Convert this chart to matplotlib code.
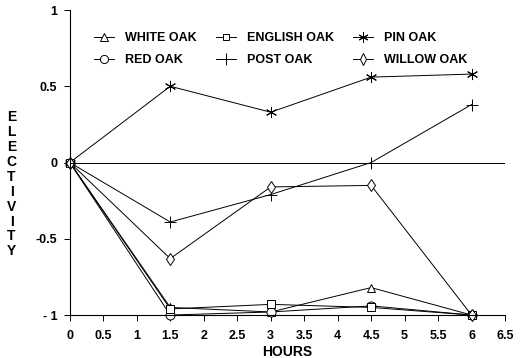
import matplotlib.pyplot as plt

hours = [0, 1.5, 3, 4.5, 6]

white_oak = [0, -0.95, -0.98, -0.82, -1.0]
red_oak = [0, -1.0, -0.98, -0.94, -1.0]
english_oak = [0, -0.96, -0.93, -0.95, -1.0]
post_oak = [0, -0.39, -0.21, 0.0, 0.38]
pin_oak = [0, 0.5, 0.33, 0.56, 0.58]
willow_oak = [0, -0.63, -0.16, -0.15, -1.0]

x_ticks = [0, 0.5, 1, 1.5, 2, 2.5, 3, 3.5, 4, 4.5, 5, 5.5, 6, 6.5]
x_tick_labels = ["0", "0.5", "1", "1.5", "2", "2.5", "3", "3.5", "4", "4.5", "5", "5.5", "6", "6.5"]
y_ticks = [-1, -0.5, 0, 0.5, 1]
y_tick_labels = ["- 1", "-0.5", "0", "0.5", "1"]

plt.rcParams['font.family'] = ['Liberation Sans', 'DejaVu Sans']
plt.rcParams['font.weight'] = 'bold'

fig = plt.figure(figsize=(5.25, 3.58), dpi=100)
ax = fig.add_axes([0.133, 0.12, 0.829, 0.852])

style = dict(color='black', lw=0.7, mfc='white', mec='black', mew=0.7, clip_on=False)
ax.plot(hours, white_oak, marker='^', ms=6, label='WHITE OAK', **style)
ax.plot(hours, red_oak, marker='o', ms=6.5, label='RED OAK', **style)
ax.plot(hours, english_oak, marker='s', ms=5.5, label='ENGLISH OAK', **style)
ax.plot(hours, post_oak, marker='+', ms=9, label='POST OAK', **style)
ax.plot(hours, pin_oak, marker=(6, 2, 0), ms=8, label='PIN OAK', **style)
ax.plot(hours, willow_oak, marker='d', ms=6.5, label='WILLOW OAK', **style)

ax.axhline(0, color='black', lw=0.7)

ax.set_xlim(0, 6.5)
ax.set_ylim(-1, 1)
ax.set_xticks(x_ticks)
ax.set_xticklabels(x_tick_labels)
ax.set_yticks(y_ticks)
ax.set_yticklabels(y_tick_labels)
ax.tick_params(labelsize=9, length=4, width=0.7, direction='out')
ax.tick_params(axis='x', pad=7)
ax.tick_params(axis='y', pad=5)
ax.spines['top'].set_visible(False)
ax.spines['right'].set_visible(False)
ax.spines['left'].set_linewidth(0.8)
ax.spines['bottom'].set_linewidth(0.8)

ax.set_xlabel("HOURS", fontsize=10, fontweight='bold', labelpad=2)
fig.text(0.022, 0.485, "\n".join("ELECTIVITY"), fontsize=10, fontweight='bold',
         ha='center', va='center', linespacing=1.08)

ax.legend(loc='upper left', bbox_to_anchor=(0.03, 0.965), ncol=3, frameon=False,
          fontsize=9, handlelength=1.6, handletextpad=0.9, columnspacing=1.5,
          labelspacing=0.8, markerscale=0.9)

fig.savefig("out.png", dpi=100)
